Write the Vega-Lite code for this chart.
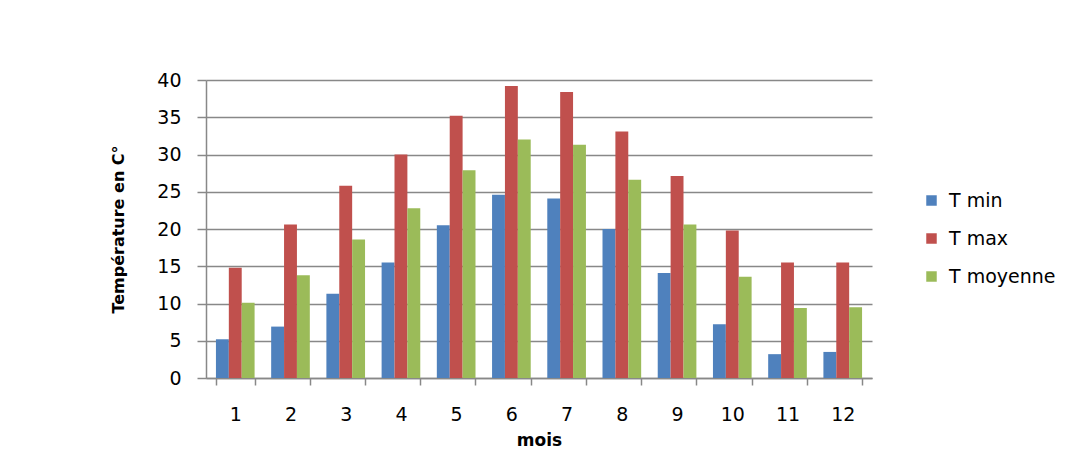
{
  "$schema": "https://vega.github.io/schema/vega-lite/v6.json",
  "width": 666,
  "height": 298,
  "autosize": {"type": "none"},
  "padding": {"left": 206, "top": 80, "right": 214, "bottom": 86},
  "background": "white",
  "data": {
    "values": [
      {"mois": 1, "serie": "T min", "t": 5.2},
      {"mois": 1, "serie": "T max", "t": 14.8},
      {"mois": 1, "serie": "T moyenne", "t": 10.1},
      {"mois": 2, "serie": "T min", "t": 6.9},
      {"mois": 2, "serie": "T max", "t": 20.6},
      {"mois": 2, "serie": "T moyenne", "t": 13.8},
      {"mois": 3, "serie": "T min", "t": 11.3},
      {"mois": 3, "serie": "T max", "t": 25.8},
      {"mois": 3, "serie": "T moyenne", "t": 18.6},
      {"mois": 4, "serie": "T min", "t": 15.5},
      {"mois": 4, "serie": "T max", "t": 30.0},
      {"mois": 4, "serie": "T moyenne", "t": 22.8},
      {"mois": 5, "serie": "T min", "t": 20.5},
      {"mois": 5, "serie": "T max", "t": 35.2},
      {"mois": 5, "serie": "T moyenne", "t": 27.9},
      {"mois": 6, "serie": "T min", "t": 24.6},
      {"mois": 6, "serie": "T max", "t": 39.2},
      {"mois": 6, "serie": "T moyenne", "t": 32.0},
      {"mois": 7, "serie": "T min", "t": 24.1},
      {"mois": 7, "serie": "T max", "t": 38.4},
      {"mois": 7, "serie": "T moyenne", "t": 31.3},
      {"mois": 8, "serie": "T min", "t": 20.0},
      {"mois": 8, "serie": "T max", "t": 33.1},
      {"mois": 8, "serie": "T moyenne", "t": 26.6},
      {"mois": 9, "serie": "T min", "t": 14.1},
      {"mois": 9, "serie": "T max", "t": 27.1},
      {"mois": 9, "serie": "T moyenne", "t": 20.6},
      {"mois": 10, "serie": "T min", "t": 7.2},
      {"mois": 10, "serie": "T max", "t": 19.8},
      {"mois": 10, "serie": "T moyenne", "t": 13.6},
      {"mois": 11, "serie": "T min", "t": 3.2},
      {"mois": 11, "serie": "T max", "t": 15.5},
      {"mois": 11, "serie": "T moyenne", "t": 9.4},
      {"mois": 12, "serie": "T min", "t": 3.5},
      {"mois": 12, "serie": "T max", "t": 15.5},
      {"mois": 12, "serie": "T moyenne", "t": 9.5}
    ]
  },
  "mark": {"type": "bar"},
  "encoding": {
    "x": {
      "field": "mois",
      "type": "ordinal",
      "title": "mois",
      "scale": {"paddingInner": 0.3, "paddingOuter": 0.18},
      "axis": {
        "labelAngle": 0,
        "tickBand": "extent",
        "tickSize": 7,
        "labelPadding": 20,
        "titlePadding": 8,
        "labelFont": "DejaVu Sans",
        "labelFontSize": 19,
        "labelColor": "#000000",
        "titleFont": "DejaVu Sans",
        "titleFontWeight": "bold",
        "titleFontSize": 17,
        "titleColor": "#000000",
        "domainColor": "#888888",
        "domainWidth": 1.5,
        "tickColor": "#888888",
        "tickWidth": 1.5
      }
    },
    "xOffset": {"field": "serie", "type": "nominal", "sort": ["T min", "T max", "T moyenne"]},
    "y": {
      "field": "t",
      "type": "quantitative",
      "title": "Température en C°",
      "scale": {"domain": [0, 40]},
      "axis": {
        "values": [0, 5, 10, 15, 20, 25, 30, 35, 40],
        "tickSize": 9,
        "labelPadding": 16,
        "titlePadding": 30,
        "labelFont": "DejaVu Sans",
        "labelFontSize": 19,
        "labelColor": "#000000",
        "titleFont": "DejaVu Sans",
        "titleFontWeight": "bold",
        "titleFontSize": 16,
        "titleColor": "#000000",
        "domainColor": "#888888",
        "domainWidth": 1.5,
        "tickColor": "#888888",
        "tickWidth": 1.5,
        "gridColor": "#888888",
        "gridWidth": 1.5
      }
    },
    "color": {
      "field": "serie",
      "type": "nominal",
      "sort": ["T min", "T max", "T moyenne"],
      "scale": {"domain": ["T min", "T max", "T moyenne"], "range": ["#4F81BD", "#C0504D", "#9BBB59"]},
      "legend": {
        "title": null,
        "orient": "none",
        "legendX": 716,
        "legendY": 111,
        "symbolType": "square",
        "symbolSize": 110,
        "symbolStrokeWidth": 0,
        "rowPadding": 18,
        "labelFont": "DejaVu Sans",
        "labelFontSize": 19,
        "labelColor": "#000000",
        "labelOffset": 8
      }
    }
  },
  "config": {
    "view": {"stroke": null}
  }
}
